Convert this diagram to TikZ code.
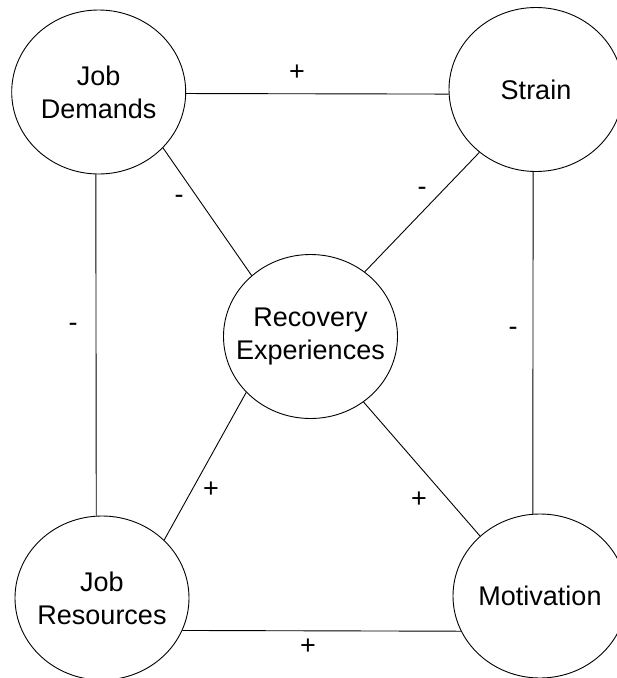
\documentclass[tikz,border=0pt]{standalone}
\usepackage{fontspec}
\setmainfont{Liberation Sans}
\usetikzlibrary{shapes}

\begin{document}
\begin{tikzpicture}[x=1pt,y=-1pt]

  \tikzset{factor/.style = {shape=ellipse,draw,line width=0.9pt,minimum width=174pt,minimum height=164pt,inner xsep=-16pt,inner ysep=0pt,align=center,font=\fontsize{27}{33}\selectfont}}
  \tikzset{link/.style = {line width=0.9pt}}
  \tikzset{sign/.style = {inner sep=0pt,font=\fontsize{27}{33}\selectfont}}
  \clip (0,0) rectangle (617,678);
  \useasboundingbox (0,0) rectangle (617,678);
  % factors
  \node[factor] (dem) at (98.7,92)    {Job\\Demands};
  \node[factor] (str) at (536,89.5)   {Strain};
  \node[factor] (rec) at (310.5,336.5) {Recovery\\Experiences};
  \node[factor] (res) at (102,598)    {Job\\Resources};
  \node[factor] (mot) at (540,596)    {Motivation};
  %links
  \draw[link] (dem.-1) -- (str.183);
  \draw[link] (dem.268) -- (res.94);
  \draw[link] (str.268) -- (mot.95);
  \draw[link] (res.-22.5) -- (mot.204);
  \draw[link] (dem.-41) -- (rec.134.5);
  \draw[link] (str.228) -- (rec.50.8);
  \draw[link] (res.43.6) -- (rec.221.2);
  \draw[link] (mot.135) -- (rec.-51.6);
  %signs
  \node[sign] (s1) at (297,73)  {+};
  \node[sign] (s2) at (179,199) {-};
  \node[sign] (s3) at (422,191) {-};
  \node[sign] (s4) at (73,327)  {-};
  \node[sign] (s5) at (513,331) {-};
  \node[sign] (s6) at (211,490) {+};
  \node[sign] (s7) at (419,500) {+};
  \node[sign] (s8) at (308,647) {+};
\end{tikzpicture}
\end{document}
